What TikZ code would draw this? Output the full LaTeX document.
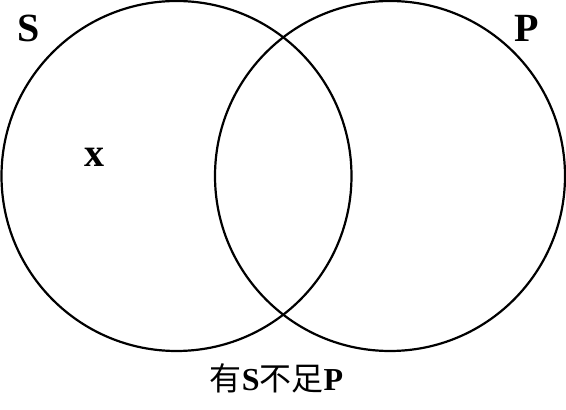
\documentclass[tikz,border=0pt]{standalone}
\usepackage{fontspec}
\setmainfont{Liberation Serif}
\newfontfamily\cjk{Noto Sans CJK SC}[BoldFont={Noto Sans CJK SC}]
\begin{document}
\begin{tikzpicture}[x=1pt,y=1pt,
  venn/.style={draw=black,line width=2.2pt},
  biglabel/.style={font=\fontsize{40}{40}\selectfont\bfseries,inner sep=0pt,anchor=center},
  caption/.style={font=\fontsize{32}{32}\selectfont,inner sep=0pt,anchor=center}]
\useasboundingbox (0,0) rectangle (566,410);
\fill[white] (0,0) rectangle (566,410);
\draw[venn] (176.5,234) circle (175);
\draw[venn] (390,234) circle (175);
\node[biglabel] (S) at (29,381.5) {S};
\node[biglabel] (P) at (527,382) {P};
\node[biglabel] (x) at (94,253) {x};
\node[caption] (cap) at (276.5,32) {{\cjk 有}{\bfseries S}{\cjk 不足}{\bfseries P}};
\end{tikzpicture}
\end{document}
